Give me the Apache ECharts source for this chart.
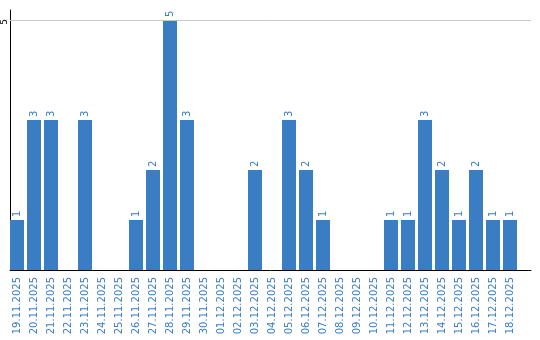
<!DOCTYPE html>
<html><head><meta charset="utf-8">
<script src="https://cdn.jsdelivr.net/npm/echarts@6/dist/echarts.min.js"></script>
<style>html,body{margin:0;padding:0;background:#fff}#c{width:540px;height:340px}</style>
</head><body><div id="c"></div>
<script>
const categories = ["19.11.2025","20.11.2025","21.11.2025","22.11.2025","23.11.2025","24.11.2025","25.11.2025","26.11.2025","27.11.2025","28.11.2025","29.11.2025","30.11.2025","01.12.2025","02.12.2025","03.12.2025","04.12.2025","05.12.2025","06.12.2025","07.12.2025","08.12.2025","09.12.2025","10.12.2025","11.12.2025","12.12.2025","13.12.2025","14.12.2025","15.12.2025","16.12.2025","17.12.2025","18.12.2025"];
const values = [1,3,3,0,3,0,0,1,2,5,3,0,0,0,2,0,3,2,1,0,0,0,1,1,3,2,1,2,1,1];
const yTickLabels = [5];

const blue = '#3b7dc3';
const yMax = 5.2;
const chart = echarts.init(document.getElementById('c'), null, {renderer:'canvas'});
chart.setOption({
  animation:false,
  grid:[
    {left:8.5,width:510,top:10,bottom:70,containLabel:false},
    {left:10,right:9,top:10,bottom:70,containLabel:false}
  ],
  xAxis:[
    {gridIndex:0,type:'category',data:categories,
      axisLine:{show:false},axisTick:{show:false},
      axisLabel:{rotate:90,interval:0,color:blue,fontFamily:'DejaVu Sans',fontSize:10,margin:7}},
    {gridIndex:1,type:'value',min:0,max:1,
      axisLine:{show:true,onZero:false,lineStyle:{color:'#000',width:1}},
      axisTick:{show:false},axisLabel:{show:false},splitLine:{show:false}}
  ],
  yAxis:[
    {gridIndex:0,type:'value',min:0,max:yMax,show:false,splitLine:{show:false}},
    {gridIndex:1,type:'value',min:0,max:yMax,interval:5,
      axisLine:{show:true,onZero:false,lineStyle:{color:'#000',width:1}},
      axisTick:{show:false},splitLine:{show:false},axisLabel:{show:false}}
  ],
  series:[
    {type:'bar',xAxisIndex:0,yAxisIndex:0,data:values.map(v=>v===0?null:v),barWidth:14,
      itemStyle:{color:blue},
      label:{show:true,position:'top',rotate:90,align:'left',verticalAlign:'middle',distance:3,color:blue,fontFamily:'DejaVu Sans',fontSize:10}},
    {type:'line',xAxisIndex:1,yAxisIndex:1,data:[],
      markLine:{silent:true,symbol:'none',label:{show:false},lineStyle:{color:'#c8c8c8',type:'solid',width:1},
        data:yTickLabels.map(v=>({yAxis:v}))}}
  ]
});
const x0 = chart.convertToPixel({xAxisIndex:1}, 0);
chart.setOption({
  graphic: yTickLabels.map(v => ({
    type:'text', x: x0 - 5, y: chart.convertToPixel({yAxisIndex:1}, v) + 2, rotation: Math.PI/2,
    style:{text:String(v), fill:'#000', font:'9px "DejaVu Sans"', align:'center', verticalAlign:'middle'}
  }))
});
</script></body></html>
